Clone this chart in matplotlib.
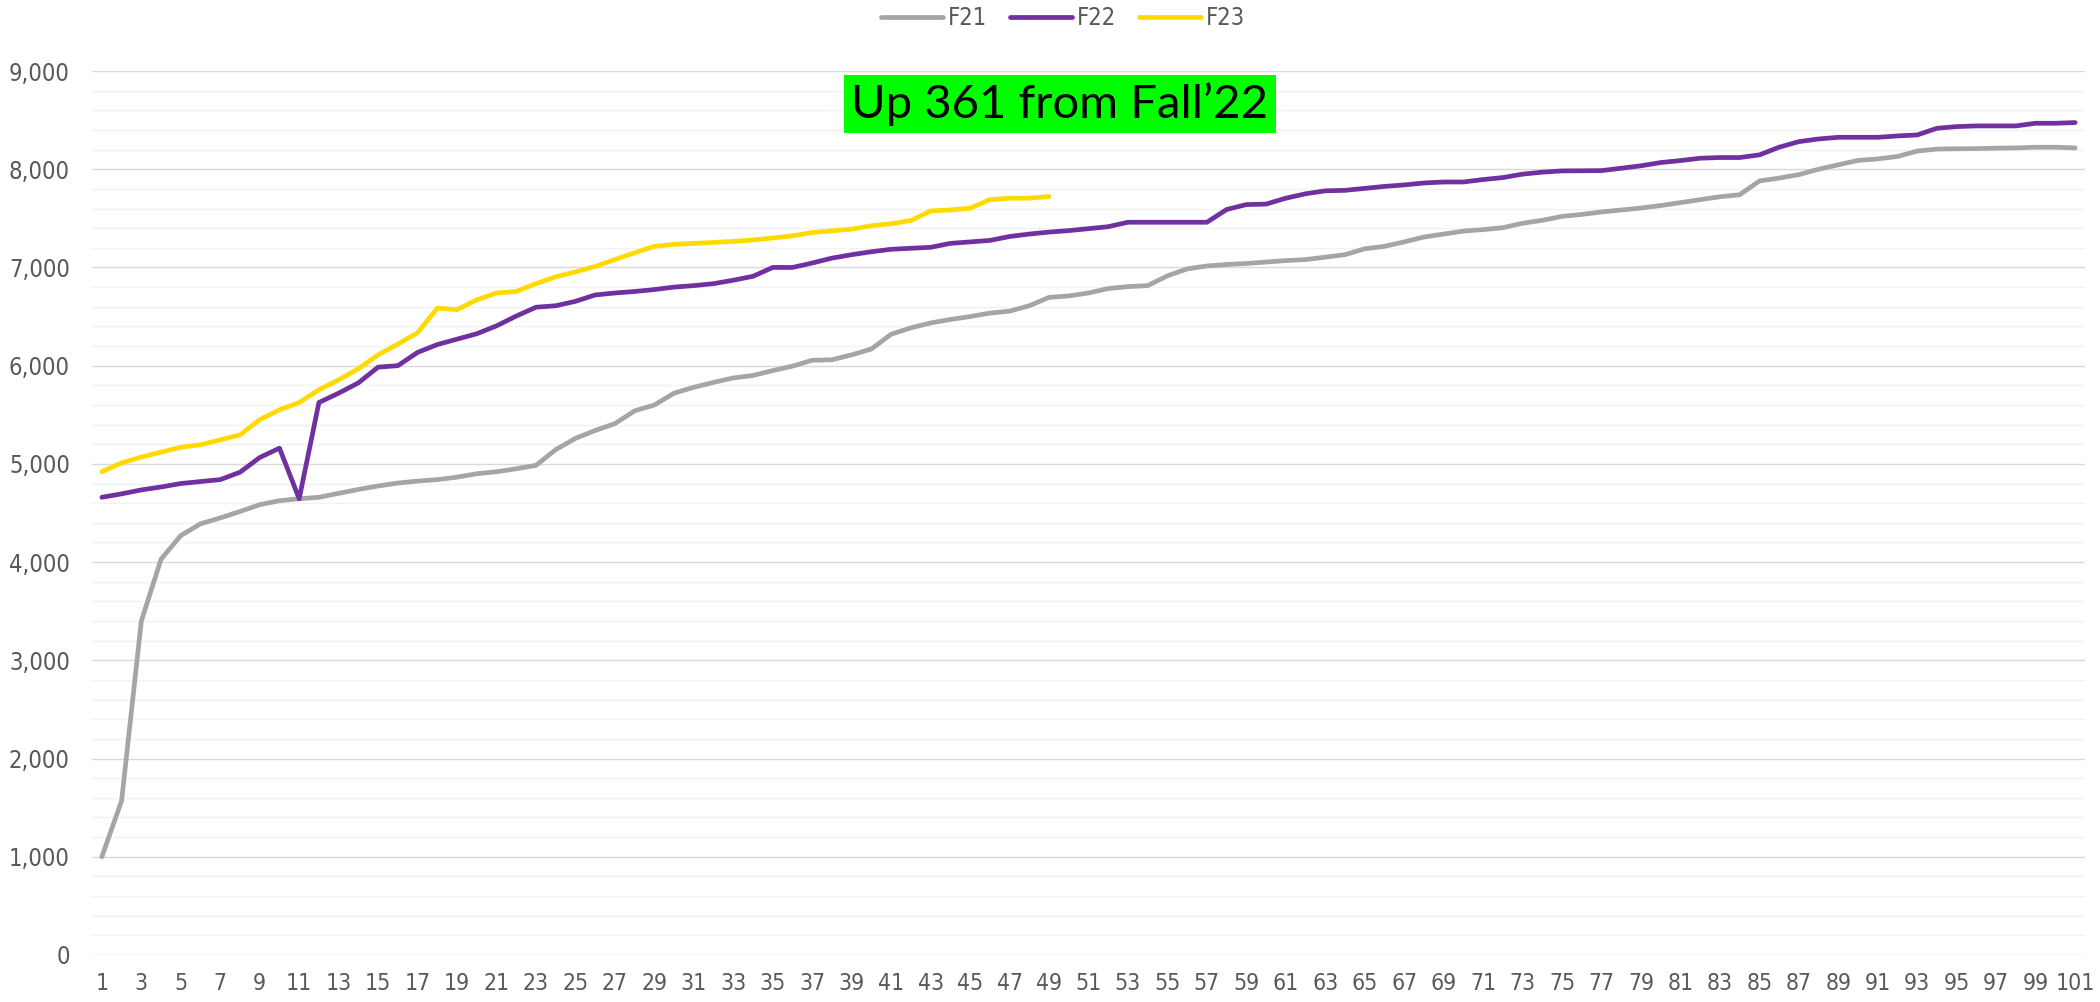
import matplotlib
matplotlib.use("Agg")
import matplotlib.pyplot as plt
from matplotlib import font_manager
from matplotlib.ticker import MultipleLocator, FuncFormatter

# category positions 1..101
days = list(range(1, 102))

f21 = [1000, 1570, 3400, 4030, 4270, 4390, 4450, 4515, 4585, 4625,
       4645, 4660, 4700, 4740, 4775, 4805, 4825, 4840, 4865, 4900,
       4920, 4950, 4985, 5145, 5260, 5340, 5410, 5540, 5600, 5720,
       5780, 5830, 5875, 5900, 5950, 5995, 6055, 6060, 6110, 6170,
       6320, 6385, 6435, 6470, 6500, 6535, 6555, 6610, 6695, 6710,
       6740, 6785, 6805, 6815, 6915, 6985, 7015, 7030, 7040, 7055,
       7070, 7080, 7105, 7130, 7190, 7215, 7260, 7310, 7340, 7370,
       7385, 7405, 7450, 7480, 7520, 7540, 7565, 7585, 7605, 7630,
       7660, 7690, 7720, 7740, 7880, 7910, 7945, 8000, 8045, 8090,
       8105, 8130, 8185, 8205, 8208, 8210, 8214, 8217, 8224, 8224, 8217]

f22 = [4660, 4695, 4735, 4765, 4800, 4820, 4840, 4915, 5065, 5160,
       4645, 5625, 5720, 5825, 5985, 6000, 6135, 6215, 6270, 6325,
       6405, 6505, 6595, 6610, 6655, 6720, 6740, 6755, 6775, 6800,
       6815, 6835, 6870, 6910, 7000, 7000, 7045, 7095, 7130, 7160,
       7185, 7195, 7205, 7245, 7260, 7275, 7315, 7340, 7360, 7375,
       7395, 7415, 7460, 7460, 7460, 7460, 7460, 7590, 7640, 7645,
       7705, 7750, 7780, 7785, 7805, 7825, 7840, 7860, 7870, 7870,
       7895, 7915, 7950, 7970, 7983, 7984, 7986, 8010, 8035, 8068,
       8088, 8112, 8119, 8119, 8146, 8224, 8281, 8308, 8325, 8325,
       8325, 8339, 8349, 8417, 8434, 8441, 8441, 8441, 8468, 8468, 8475]

f23 = [4920, 5010, 5070, 5120, 5170, 5195, 5245, 5295, 5450, 5550,
       5625, 5755, 5855, 5970, 6110, 6220, 6335, 6585, 6570, 6670,
       6740, 6755, 6835, 6905, 6955, 7010, 7080, 7150, 7215, 7235,
       7245, 7255, 7265, 7280, 7300, 7322, 7355, 7373, 7390, 7425,
       7445, 7478, 7575, 7585, 7603, 7690, 7705, 7705, 7722]

series_names = ["F21", "F22", "F23"]
series_colors = ["#A5A5A5", "#7030A0", "#FFDA00"]
note_text = "Up 361 from Fall\u201922"

# pick a narrow font if we have one
fonts = font_manager.fontManager.ttflist
available = {f.name for f in fonts}
has_condensed = any(f.name == "DejaVu Sans" and f.stretch == "condensed" for f in fonts)
if "Liberation Sans Narrow" in available:
    tick_font, tick_stretch = "Liberation Sans Narrow", "normal"
else:
    tick_font, tick_stretch = "DejaVu Sans", ("condensed" if has_condensed else "normal")
note_font = "Lato" if "Lato" in available else "DejaVu Sans"

fig = plt.figure(figsize=(21, 10.02), dpi=100)
ax = fig.add_axes([92 / 2100, 47 / 1002, 1993 / 2100, 884 / 1002])

for vals, name, col in zip([f21, f22, f23], series_names, series_colors):
    ax.plot(days[:len(vals)], vals, color=col, lw=3.4, label=name,
            solid_capstyle="round", solid_joinstyle="round")

ax.set_xlim(0.5, 101.5)
ax.set_ylim(0, 9000)
ax.yaxis.set_major_locator(MultipleLocator(1000))
ax.yaxis.set_minor_locator(MultipleLocator(200))
ax.yaxis.set_major_formatter(FuncFormatter(lambda v, p: f"{int(v):,}"))
ax.set_xticks(days[::2])
ax.set_xticklabels([str(d) for d in days[::2]])

ax.grid(axis="y", which="major", color="#D9D9D9", lw=1.0)
ax.grid(axis="y", which="minor", color="#F2F2F2", lw=1.0)
ax.set_axisbelow(True)
for s in ax.spines.values():
    s.set_visible(False)
ax.tick_params(axis="both", which="both", length=0)
ax.tick_params(axis="y", labelsize=17, labelcolor="#595959", pad=16)
ax.tick_params(axis="x", labelsize=16.5, labelcolor="#595959", pad=12)
for lab in ax.get_xticklabels() + ax.get_yticklabels():
    lab.set_fontfamily(tick_font)
    lab.set_fontstretch(tick_stretch)

leg = fig.legend(loc="center", bbox_to_anchor=(1063 / 2100, 1 - 18 / 1002), ncol=3,
                 frameon=False, handlelength=2.6, handletextpad=0.2, columnspacing=1.0,
                 prop={"family": tick_font, "size": 17, "stretch": tick_stretch})
for t in leg.get_texts():
    t.set_color("#595959")

fig.text(1060 / 2100, 1 - 104 / 1002, note_text, ha="center", va="center",
         fontsize=34, family=note_font, color="black",
         bbox=dict(boxstyle="square,pad=0.16", facecolor="#00FF00", edgecolor="none"))

fig.savefig("out.png", dpi=100)
